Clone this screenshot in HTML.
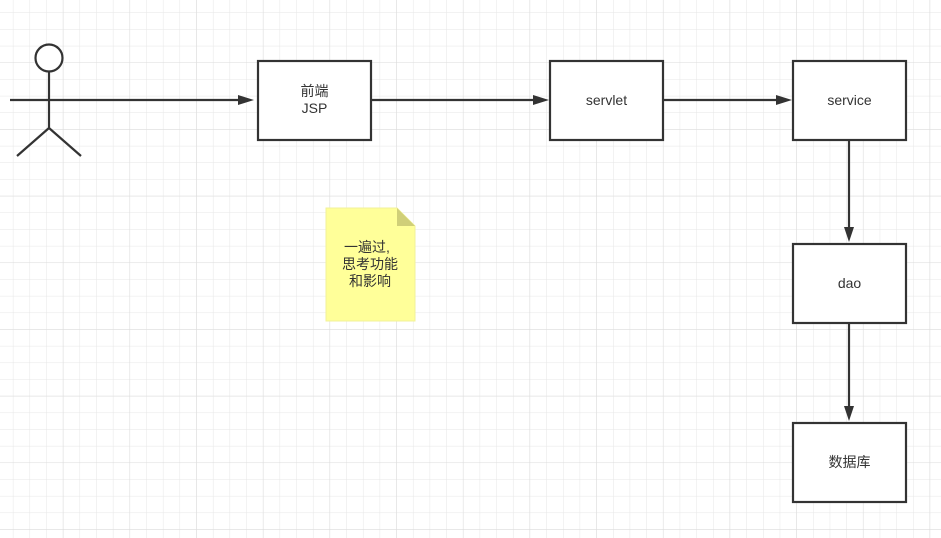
<!DOCTYPE html>
<html><head><meta charset="utf-8"><style>
html,body{margin:0;padding:0;background:#fff;width:941px;height:538px;overflow:hidden}
svg{display:block}
text{font-family:"Liberation Sans","Noto Sans CJK SC",sans-serif;font-size:14px;fill:#333}
</style></head><body>
<svg width="941" height="538" viewBox="0 0 941 538" xmlns="http://www.w3.org/2000/svg">
<defs>
<pattern id="g" x="-3.3" y="-3.7" width="16.67" height="16.67" patternUnits="userSpaceOnUse">
<path d="M16.67 0V16.67M0 16.67H16.67" stroke="#e6e6e6" stroke-width="1" fill="none"/>
</pattern>
<pattern id="G" x="-3.3" y="-3.7" width="66.67" height="66.67" patternUnits="userSpaceOnUse">
<path d="M66.67 0V66.67M0 66.67H66.67" stroke="#dcdcdc" stroke-width="1" fill="none"/>
</pattern>
</defs>
<rect width="941" height="538" fill="url(#g)"/>
<rect width="941" height="538" fill="url(#G)"/>
<g stroke="#333" stroke-width="2.2" fill="none">
<circle cx="49" cy="58" r="13.5" fill="#fff"/>
<line x1="49" y1="72" x2="49" y2="128"/>
<line x1="49" y1="128" x2="17" y2="156"/>
<line x1="49" y1="128" x2="81" y2="156"/>
<line x1="10" y1="100" x2="242" y2="100"/>
<line x1="371" y1="100" x2="536" y2="100"/>
<line x1="663" y1="100" x2="779" y2="100"/>
<line x1="849" y1="140" x2="849" y2="230"/>
<line x1="849" y1="323" x2="849" y2="409"/>
<rect x="258" y="61" width="113" height="79" fill="#fff"/>
<rect x="550" y="61" width="113" height="79" fill="#fff"/>
<rect x="793" y="61" width="113" height="79" fill="#fff"/>
<rect x="793" y="244" width="113" height="79" fill="#fff"/>
<rect x="793" y="423" width="113" height="79" fill="#fff"/>
</g>
<g fill="#333">
<path d="M254 100L238 95L238 105Z"/>
<path d="M549 100L533 95L533 105Z"/>
<path d="M792 100L776 95L776 105Z"/>
<path d="M849 242L844 227L854 227Z"/>
<path d="M849 421L844 406L854 406Z"/>
</g>
<path d="M326 208H397L415 226V321H326Z" fill="#ffff99" stroke="#f2f299" stroke-width="1"/>
<path d="M397 208L415 226H397Z" fill="#d0cf78"/>
<text x="314.5" y="96" text-anchor="middle" font-size="13">前端</text>
<text x="314.5" y="113" text-anchor="middle">JSP</text>
<text x="606.5" y="105" text-anchor="middle">servlet</text>
<text x="849.5" y="105" text-anchor="middle">service</text>
<text x="849.5" y="288" text-anchor="middle">dao</text>
<text x="849.5" y="467" text-anchor="middle">数据库</text>
<text x="367" y="252" text-anchor="middle" font-size="13">一遍过,</text>
<text x="370" y="269" text-anchor="middle" font-size="13">思考功能</text>
<text x="370" y="286" text-anchor="middle" font-size="13">和影响</text>
</svg>
</body></html>
